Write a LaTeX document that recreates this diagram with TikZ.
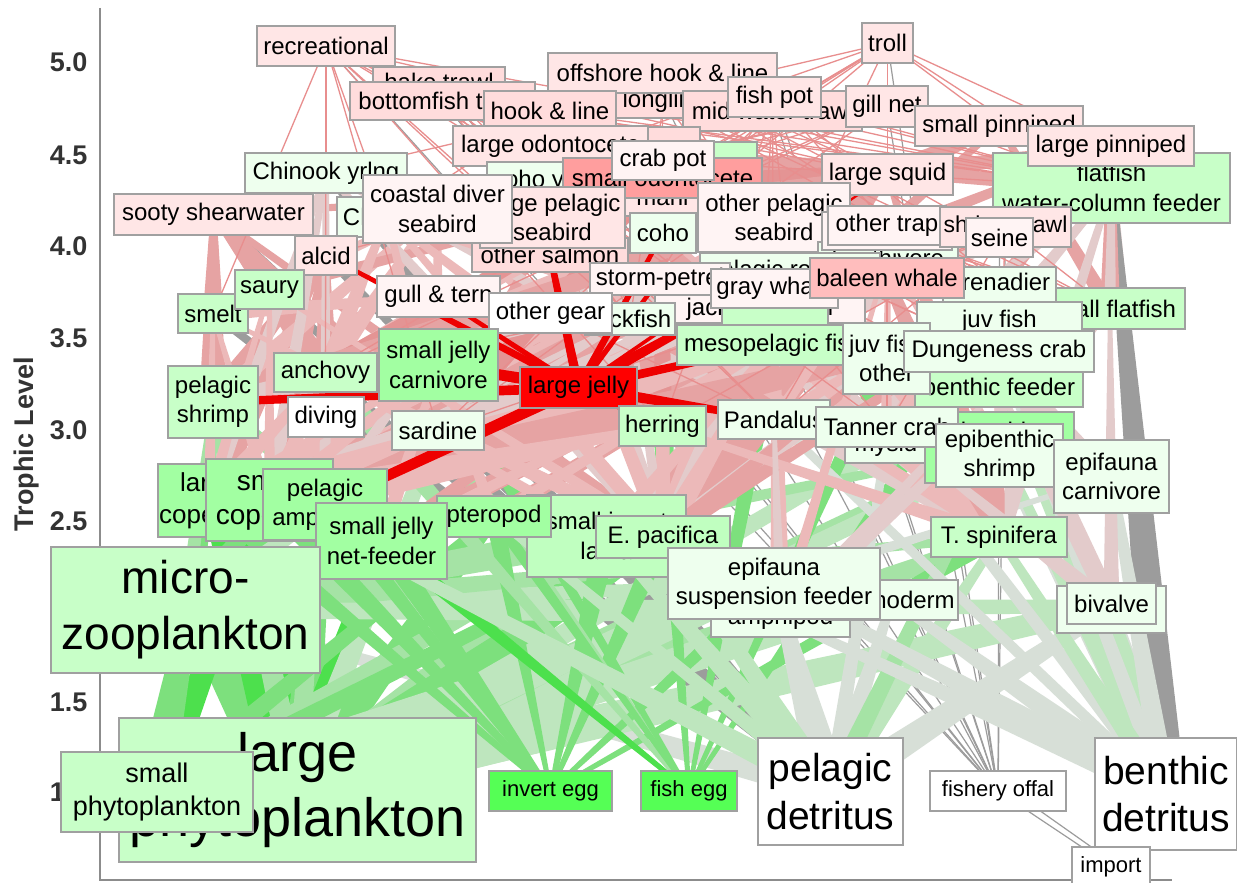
\documentclass[tikz,border=0pt]{standalone}
\usepackage{fontspec}
\setmainfont{Liberation Sans}
\usetikzlibrary{calc}
\pgfdeclarelayer{edges}
\pgfsetlayers{edges,main}
\definecolor{cP}{HTML}{E6A3A3}
\definecolor{cP2}{HTML}{ECB9B9}
\definecolor{cPG}{HTML}{E3CBCB}
\definecolor{cSP}{HTML}{E49494}
\definecolor{cL}{HTML}{E88E8E}
\definecolor{cG1}{HTML}{4DE04D}
\definecolor{cG2}{HTML}{7DE07D}
\definecolor{cG3}{HTML}{A5E3A5}
\definecolor{cG4}{HTML}{BEE6BE}
\definecolor{cGP}{HTML}{D7DFD7}
\definecolor{cGr}{HTML}{9C9C9C}
\definecolor{cR}{HTML}{EE0000}
\definecolor{bd}{HTML}{A0A0A0}
\definecolor{fP}{HTML}{FFE6E6}
\definecolor{fP2}{HTML}{FFDCDC}
\definecolor{fPW}{HTML}{FFF4F4}
\definecolor{fS}{HTML}{FF9E9E}
\definecolor{fB}{HTML}{FFBDBD}
\definecolor{fR}{HTML}{FF0000}
\definecolor{fGW}{HTML}{EEFFEE}
\definecolor{fGL}{HTML}{C8FFC8}
\definecolor{fGLb}{HTML}{C0FFC0}
\definecolor{fGM}{HTML}{A2FFA2}
\definecolor{fGB}{HTML}{55FF55}
\definecolor{fW}{HTML}{FFFFFF}
\definecolor{tk}{HTML}{333333}
\definecolor{ax}{HTML}{8C8C8C}
\tikzset{
  nd/.style={draw=bd,line width=1.2pt,inner sep=0pt,align=center,text=black},
  fl/.style={draw=cL,line width=1.3pt},
  gline/.style={draw=cGr,line width=1.2pt},
  tick/.style={anchor=east,text=tk,font=\bfseries\fontsize{27}{32}\selectfont},
  axisline/.style={draw=ax,line width=1.5pt}
}
\newcommand\bx[8]{\node[nd,fill=#6,minimum width={#4-#2},minimum height={#5-#3},font=\fontsize{#7}{\fpeval{1.22*#7}}\selectfont] (#1) at ({(#2+#4)/2},{(#3+#5)/2}) {#8};}
\newcommand\edg[5]{\fill[fill=#1] ($(#2.center)!#4!90:(#3.center)$) -- ($(#2.center)!#4!-90:(#3.center)$) -- ($(#3.center)!#5!90:(#2.center)$) -- ($(#3.center)!#5!-90:(#2.center)$) -- cycle;}
\begin{document}
\begin{tikzpicture}[x=1pt,y=-1pt]
\useasboundingbox (0,0) rectangle (1237,883);
% ---------------- nodes ----------------
\bx{rec}{257}{26}{395}{66}{fP}{24}{recreational}
\bx{hakeA}{373}{67}{505}{97}{fP2}{24}{hake trawl}
\bx{bft}{350}{82}{535}{120}{fP2}{24}{bottomfish trawl}
\bx{longl}{604}{84}{724}{118}{fP2}{24}{longline}
\bx{off}{548}{53}{777}{93}{fP}{24}{offshore hook \& line}
\bx{hook}{484}{91}{616}{131}{fP2}{24}{hook \& line}
\bx{midw}{683}{91}{862}{131}{fP2}{24}{mid water trawl}
\bx{fpot}{728}{77}{821}{117}{fP}{24}{fish pot}
\bx{troll}{862}{23}{913}{63}{fP}{24}{troll}
\bx{gill}{846}{86}{928}{127}{fP}{24}{gill net}
\bx{spin}{915}{106}{1083}{146}{fP}{24}{small pinniped}
\bx{fwc}{993}{153}{1230}{223}{fGL}{24}{flatfish\\water-column feeder}
\bx{lpin}{1028}{126}{1194}{166}{fP}{24}{large pinniped}
\bx{lodo}{453}{126}{648}{166}{fP}{24}{large odontocete}
\bx{hidP}{648}{127}{700}{170}{fP2}{24}{}
\bx{hidG}{690}{142}{757}{175}{fGL}{24}{}
\bx{cohoy}{487}{162}{610}{200}{fGW}{24}{coho yrlng}
\bx{mahi}{625}{178}{700}{216}{fP}{24}{mahi}
\bx{sodo}{563}{158}{762}{198}{fS}{24}{small odontocete}
\bx{cpot}{612}{141}{714}{180}{fPW}{24}{crab pot}
\bx{chy}{245}{153}{407}{193}{fGW}{24}{Chinook yrlng}
\bx{chk}{337}{197}{437}{237}{fGW}{24}{Chinook}
\bx{sooty}{114}{194}{313}{235}{fP}{24}{sooty shearwater}
\bx{osal}{472}{238}{628}{272}{fP2}{24}{other salmon}
\bx{lpsb}{480}{187}{625}{248}{fP}{24}{large pelagic\\seabird}
\bx{cdiv}{363}{175}{512}{243}{fPW}{24}{coastal diver\\seabird}
\bx{coho}{630}{213}{696}{253}{fGW}{24}{coho}
\bx{lsq}{822}{154}{953}{195}{fP}{24}{large squid}
\bx{opsb}{698}{183}{850}{252}{fPW}{24}{other pelagic\\seabird}
\bx{benth}{818}{242}{958}{274}{fGW}{24}{benthivore}
\bx{otrapB}{822}{212}{952}{250}{fPW}{24}{}
\bx{otrap}{828}{206}{946}{245}{fPW}{24}{other trap}
\bx{strawl}{940}{207}{1071}{247}{fP}{23}{shrimp trawl}
\bx{seine}{966}{218}{1033}{257}{fPW}{24}{seine}
\bx{alcid}{295}{236}{357}{275}{fP}{24}{alcid}
\bx{smelt}{178}{294}{248}{333}{fGL}{24}{smelt}
\bx{saury}{235}{270}{304}{309}{fGL}{24}{saury}
\bx{gull}{377}{276}{500}{317}{fPW}{24}{gull \& tern}
\bx{prock}{700}{253}{880}{289}{fGW}{24}{pelagic rockfish}
\bx{spet}{590}{263}{730}{295}{fPW}{24}{storm-petrel}
\bx{jmack}{655}{295}{865}{323}{fPW}{24}{jack mackerel}
\bx{rockf}{585}{303}{675}{335}{fGW}{24}{rockfish}
\bx{ogear}{489}{293}{612}{333}{fW}{24}{other gear}
\bx{hidG2}{722}{305}{828}{330}{fGL}{24}{}
\bx{gwhale}{711}{269}{838}{308}{fPW}{24}{gray whale}
\bx{sflat}{1035}{288}{1185}{329}{fGL}{24}{small flatfish}
\bx{gren}{943}{267}{1056}{302}{fGW}{24}{grenadier}
\bx{bwhale}{810}{258}{964}{298}{fB}{24}{baleen whale}
\bx{meso}{677}{325}{870}{365}{fGL}{24}{mesopelagic fish}
\bx{juvf}{917}{302}{1082}{340}{fGW}{24}{juv fish}
\bx{bfeed}{915}{367}{1083}{407}{fGL}{24}{benthic feeder}
\bx{juvo}{843}{323}{930}{394}{fGW}{24}{juv fish\\other}
\bx{dcrab}{904}{331}{1094}{372}{fGW}{24}{Dungeness crab}
\bx{sjc}{379}{329}{498}{401}{fGM}{24}{small jelly\\carnivore}
\bx{anch}{274}{353}{377}{392}{fGL}{24}{anchovy}
\bx{pshr}{168}{366}{258}{438}{fGL}{24}{pelagic\\shrimp}
\bx{diving}{288}{397}{364}{437}{fW}{24}{diving}
\bx{ljelly}{520}{367}{637}{408}{fR}{24}{large jelly}
\bx{sard}{392}{411}{484}{450}{fGW}{24}{sardine}
\bx{herr}{619}{406}{706}{446}{fGL}{24}{herring}
\bx{pand}{718}{400}{830}{439}{fGW}{24}{Pandalus}
\bx{mysid}{845}{428}{927}{463}{fGW}{24}{mysid}
\bx{ezoo}{925}{412}{1074}{483}{fGM}{24}{benthic\\zooplankton}
\bx{tanner}{816}{407}{958}{447}{fGW}{24}{Tanner crab}
\bx{eshr}{936}{424}{1063}{487}{fGW}{24}{epibenthic\\shrimp}
\bx{ecarn}{1054}{440}{1169}{513}{fGW}{24}{epifauna\\carnivore}
\bx{tspin}{931}{517}{1067}{557}{fGL}{24}{T. spinifera}
\bx{infa}{1057}{586}{1166}{633}{fGW}{24}{infauna}
\bx{biv}{1067}{583}{1156}{624}{fGW}{24}{bivalve}
\bx{amph}{711}{600}{850}{637}{fGW}{24}{amphipod}
\bx{echi}{826}{580}{958}{620}{fGW}{24}{echinoderm}
\bx{sil}{527}{495}{686}{577}{fGLb}{24}{small invert\\larva}
\bx{epac}{596}{516}{730}{558}{fGLb}{24}{E. pacifica}
\bx{esus}{668}{548}{880}{619}{fGW}{24}{epifauna\\suspension feeder}
\bx{pter}{437}{496}{551}{537}{fGM}{24}{pteropod}
\bx{lcop}{158}{464}{260}{537}{fGM}{26}{large\\copepod}
\bx{scop}{206}{459}{333}{541}{fGM}{28}{small\\copepod}
\bx{pamph}{263}{469}{387}{540}{fGM}{24}{pelagic\\amphipod}
\bx{sjnf}{316}{503}{447}{579}{fGM}{24}{small jelly\\net-feeder}
\bx{mzoo}{51}{547}{320}{673}{fGL}{46}{micro-\\zooplankton}
\bx{lphy}{119}{718}{476}{862}{fGL}{54}{large\\phytoplankton}
\bx{sphy}{61}{752}{253}{832}{fGL}{27}{small\\phytoplankton}
\bx{iegg}{489}{771}{612}{811}{fGB}{22}{invert egg}
\bx{fegg}{641}{771}{737}{811}{fGB}{22}{fish egg}
\bx{pdet}{758}{738}{903}{845}{fW}{39}{pelagic\\detritus}
\bx{foff}{930}{771}{1066}{811}{fW}{22}{fishery offal}
\bx{bdet}{1095}{738}{1237}{850}{fW}{39}{benthic\\detritus}
\bx{import}{1072}{847}{1150}{886}{fW}{22}{import}
% ---------------- edges and axis ----------------
\begin{pgfonlayer}{edges}
\fill[white] (0,0) rectangle (1237,883);
\draw[axisline] (100,8) -- (100,880) -- (1172,880);
\node[tick] (t50) at (91,62) {5.0};
\node[tick] (t45) at (91,155) {4.5};
\node[tick] (t40) at (91,246) {4.0};
\node[tick] (t35) at (91,338) {3.5};
\node[tick] (t30) at (91,430) {3.0};
\node[tick] (t25) at (91,521) {2.5};
\node[tick] (t20) at (91,612) {2.0};
\node[tick] (t15) at (91,702) {1.5};
\node[tick] (t10) at (91,792) {1.0};
\node[text=tk,font=\bfseries\fontsize{27}{32}\selectfont,rotate=90] (ylab) at (27,444) {Trophic Level};
% gray flows
\foreach \nn in {bft,hook,off,longl,midw,fpot,cpot,otrap,strawl,gill,troll,rec,seine,ogear,hakeA}
  {\draw[gline] (foff.center) -- (\nn.center);}
\draw[gline] (import.center) -- (foff.center);
\draw[gline] ([xshift=8pt]import.center) -- ([xshift=14pt]foff.center);
\foreach \nn in {saury,smelt,alcid,chy,sooty,anch}
  {\edg{cGr}{pdet}{\nn}{5pt}{4pt}}
\edg{cPG}{bdet}{lpin}{8pt}{2pt}
\edg{cGr}{bdet}{fwc}{20pt}{4pt}
\edg{cGr}{bdet}{ecarn}{9pt}{3pt}
\edg{cGr}{biv}{ecarn}{8pt}{2pt}
% detritus (pale), drawn first so greens lie over part of them
\edg{cGP}{pdet}{mzoo}{12pt}{4pt}
% primary producers
\foreach \nn/\ww/\cc in {mzoo/34pt/cG2,lcop/30pt/cG1,scop/32pt/cG1,pamph/20pt/cG2,sjnf/22pt/cG1,pter/16pt/cG2,sil/20pt/cG3,epac/26pt/cG2,tspin/24pt/cG3,esus/26pt/cG4,biv/22pt/cG4,infa/20pt/cG4,ezoo/16pt/cG3,eshr/12pt/cG4,mysid/12pt/cG4,amph/14pt/cG4,echi/12pt/cG4,pshr/12pt/cG3,sard/12pt/cG4,anch/10pt/cG3}
  {\edg{\cc}{lphy}{\nn}{\ww}{7pt}}
\foreach \nn/\ww/\cc in {mzoo/22pt/cG2,scop/16pt/cG1,lcop/16pt/cG2,sil/12pt/cG3,esus/12pt/cG4,pter/10pt/cG2,epac/10pt/cG2}
  {\edg{\cc}{sphy}{\nn}{\ww}{5pt}}
\foreach \nn/\ww/\cc in {scop/16pt/cG2,lcop/14pt/cG2,sjnf/12pt/cG1,pter/10pt/cG2,sil/12pt/cG3,epac/12pt/cG3,esus/12pt/cG4,biv/10pt/cG4,pamph/10pt/cG2,tspin/10pt/cG3,infa/8pt/cG4,ezoo/8pt/cG3,amph/8pt/cG4}
  {\edg{\cc}{mzoo}{\nn}{\ww}{4pt}}
\foreach \nn/\ww in {scop/12pt,sjnf/12pt,pter/9pt,sil/12pt,epac/10pt,pamph/9pt,lcop/10pt,esus/8pt,tspin/8pt}
  {\edg{cG2}{\nn}{iegg}{\ww}{2pt}}
\foreach \nn/\ww/\cc in {sard/10pt/cG3,anch/10pt/cG3,herr/10pt/cG2,meso/10pt/cG2,pshr/8pt/cG3,sjc/8pt/cG2,juvf/8pt/cG2,juvo/8pt/cG2,sjnf/8pt/cG1,pter/6pt/cG2}
  {\edg{\cc}{\nn}{fegg}{\ww}{2pt}}
\foreach \nn/\ww/\cc in {scop/12pt/cG4,sil/14pt/cG4,esus/20pt/cGP,biv/16pt/cGP,infa/16pt/cGP,amph/12pt/cGP,echi/12pt/cGP,tspin/12pt/cG4,epac/12pt/cG4,ezoo/10pt/cG3,mysid/8pt/cGP,pter/8pt/cG4}
  {\edg{\cc}{pdet}{\nn}{\ww}{4pt}}
\foreach \nn/\ww/\cc in {biv/20pt/cGP,infa/20pt/cG4,echi/14pt/cGP,ecarn/12pt/cGP,eshr/10pt/cGP,ezoo/10pt/cG4,amph/12pt/cGP,bfeed/8pt/cG4,dcrab/8pt/cGP,tanner/8pt/cGP,pand/6pt/cGP,esus/14pt/cGP,tspin/10pt/cG4}
  {\edg{\cc}{bdet}{\nn}{\ww}{4pt}}
\foreach \nn/\ww in {scop/8pt,lcop/8pt,mzoo/8pt}
  {\edg{cG3}{\nn}{pshr}{\ww}{3pt}}
\edg{cG4}{mzoo}{sard}{10pt}{3pt}
\foreach \nn/\ww in {biv/6pt,infa/6pt,esus/6pt}
  {\edg{cGP}{\nn}{ecarn}{\ww}{2pt}}
% pink predation flows
\foreach \nn/\ww in {epac/20pt,tspin/18pt,pshr/10pt,scop/18pt,lcop/16pt,pamph/10pt,sjnf/10pt,sil/12pt,pter/8pt}
  {\edg{cP}{\nn}{bwhale}{\ww}{5pt}}
\foreach \nn/\ww in {amph/10pt,ezoo/9pt,pshr/7pt,mysid/7pt,scop/8pt}
  {\edg{cP2}{\nn}{gwhale}{\ww}{3pt}}
\foreach \nn/\ww in {anch/14pt,smelt/10pt,saury/10pt,pshr/14pt,sard/10pt,lsq/6pt,epac/8pt}
  {\edg{cP}{\nn}{sooty}{\ww}{3pt}}
\foreach \nn/\ww in {anch/12pt,smelt/10pt,pshr/12pt,lcop/14pt,saury/8pt,scop/8pt}
  {\edg{cP}{\nn}{alcid}{\ww}{3pt}}
\foreach \nn/\ww in {anch/10pt,smelt/8pt,herr/10pt,pshr/10pt,sard/8pt}
  {\edg{cP2}{\nn}{cdiv}{\ww}{3pt}}
\foreach \nn/\ww in {lsq/8pt,meso/10pt,saury/6pt,sard/8pt,epac/6pt}
  {\edg{cP}{\nn}{lpsb}{\ww}{3pt}}
\foreach \nn/\ww in {meso/10pt,lsq/8pt,epac/12pt,pshr/8pt,tspin/8pt,scop/8pt}
  {\edg{cP2}{\nn}{opsb}{\ww}{3pt}}
\foreach \nn/\ww in {anch/10pt,smelt/8pt,herr/8pt,sard/8pt}
  {\edg{cP2}{\nn}{gull}{\ww}{3pt}}
\foreach \nn/\ww in {meso/6pt,epac/8pt,pshr/6pt,lcop/8pt}
  {\edg{cP2}{\nn}{spet}{\ww}{2pt}}
\foreach \nn/\ww in {epac/10pt,tspin/8pt,lcop/8pt,scop/8pt,pamph/6pt}
  {\edg{cPG}{\nn}{chy}{\ww}{3pt}}
\foreach \nn/\ww in {herr/10pt,anch/10pt,sard/8pt,epac/8pt,meso/6pt}
  {\edg{cP2}{\nn}{chk}{\ww}{3pt}}
\foreach \nn/\ww in {anch/8pt,herr/8pt,tspin/8pt,epac/8pt}
  {\edg{cP2}{\nn}{coho}{\ww}{3pt}}
\foreach \nn/\ww in {epac/8pt,tspin/6pt,pamph/6pt}
  {\edg{cPG}{\nn}{cohoy}{\ww}{2pt}}
\foreach \nn/\ww in {herr/8pt,epac/8pt,tspin/6pt,anch/6pt}
  {\edg{cP2}{\nn}{osal}{\ww}{3pt}}
\foreach \nn/\ww in {lsq/12pt,meso/10pt,prock/8pt,gren/8pt,fwc/8pt}
  {\edg{cP}{\nn}{lodo}{\ww}{3pt}}
\foreach \nn/\ww in {anch/12pt,sard/12pt,herr/10pt,meso/10pt,lsq/10pt,jmack/8pt}
  {\edg{cSP}{\nn}{sodo}{\ww}{3pt}}
\foreach \nn/\ww in {lsq/6pt,meso/6pt,jmack/6pt}
  {\edg{cP}{\nn}{mahi}{\ww}{2pt}}
\foreach \nn/\ww in {herr/10pt,anch/10pt,fwc/10pt,sflat/8pt,lsq/8pt,sard/8pt}
  {\edg{cP}{\nn}{spin}{\ww}{3pt}}
\foreach \nn/\ww in {fwc/14pt,sflat/10pt,gren/8pt,lsq/10pt,prock/8pt}
  {\edg{cP}{\nn}{lpin}{\ww}{3pt}}
\foreach \nn/\ww in {meso/12pt,epac/14pt,tspin/12pt,pshr/10pt,sard/10pt,anch/10pt,jmack/8pt,pamph/8pt,scop/8pt,sjnf/6pt}
  {\edg{cP}{\nn}{lsq}{\ww}{3pt}}
\foreach \nn/\ww in {epac/10pt,tspin/10pt,pshr/8pt,meso/10pt,pamph/6pt,juvf/8pt,sflat/6pt}
  {\edg{cPG}{\nn}{fwc}{\ww}{3pt}}
\foreach \nn/\ww in {epac/8pt,tspin/8pt,scop/8pt,pamph/6pt}
  {\edg{cPG}{\nn}{prock}{\ww}{3pt}}
\foreach \nn/\ww in {epac/8pt,tspin/8pt,scop/8pt,lcop/8pt}
  {\edg{cPG}{\nn}{jmack}{\ww}{3pt}}
\foreach \nn/\ww in {epac/6pt,pamph/6pt,scop/6pt}
  {\edg{cPG}{\nn}{rockf}{\ww}{2pt}}
\foreach \nn/\ww in {epac/12pt,tspin/12pt,scop/12pt,lcop/10pt,pamph/8pt,pter/6pt,sjnf/6pt,sil/8pt}
  {\edg{cP2}{\nn}{meso}{\ww}{3pt}}
\foreach \nn/\ww in {scop/8pt,lcop/8pt,pamph/6pt,epac/8pt,tspin/6pt}
  {\edg{cP}{\nn}{juvf}{\ww}{3pt}}
\foreach \nn/\ww in {scop/8pt,lcop/8pt,pamph/6pt,tspin/6pt,epac/8pt}
  {\edg{cP}{\nn}{juvo}{\ww}{3pt}}
\foreach \nn/\ww in {scop/10pt,lcop/10pt,epac/8pt}
  {\edg{cP2}{\nn}{sard}{\ww}{3pt}}
\foreach \nn/\ww in {scop/10pt,lcop/10pt,epac/8pt,sil/6pt}
  {\edg{cP2}{\nn}{anch}{\ww}{3pt}}
\foreach \nn/\ww in {scop/10pt,lcop/8pt,epac/10pt,pamph/6pt,tspin/8pt}
  {\edg{cP2}{\nn}{herr}{\ww}{3pt}}
\foreach \nn/\ww in {scop/6pt,lcop/6pt,epac/6pt}
  {\edg{cP2}{\nn}{smelt}{\ww}{2pt}\edg{cP2}{\nn}{saury}{\ww}{2pt}}
\foreach \nn/\ww in {sjnf/8pt,pter/6pt,scop/8pt,lcop/6pt}
  {\edg{cP2}{\nn}{sjc}{\ww}{3pt}}
\foreach \nn/\ww in {pand/6pt,tanner/6pt,mysid/6pt,ezoo/6pt}
  {\edg{cP2}{\nn}{gren}{\ww}{2pt}}
\foreach \nn/\ww in {amph/6pt,ezoo/6pt,mysid/6pt,pand/6pt}
  {\edg{cP2}{\nn}{benth}{\ww}{2pt}}
\foreach \nn/\ww in {ezoo/8pt,mysid/6pt,amph/6pt}
  {\edg{cPG}{\nn}{pand}{\ww}{2pt}}
\foreach \nn/\ww in {infa/8pt,ecarn/6pt,biv/6pt}
  {\edg{cPG}{\nn}{tanner}{\ww}{2pt}}
\foreach \nn/\ww in {amph/8pt,ezoo/8pt,eshr/6pt,infa/8pt}
  {\edg{cPG}{\nn}{sflat}{\ww}{2pt}}
\foreach \nn/\ww in {biv/8pt,infa/8pt,ecarn/6pt,eshr/6pt}
  {\edg{cPG}{\nn}{dcrab}{\ww}{2pt}}
\foreach \nn/\ww in {infa/8pt,amph/8pt,ezoo/6pt}
  {\edg{cPG}{\nn}{bfeed}{\ww}{2pt}}
% fleets
\foreach \nn in {chy,chk,coho,osal,lsq,sard,anch,herr,smelt,rockf,prock,dcrab,fwc,sflat,mahi,cohoy}
  {\draw[fl] (rec.center) -- (\nn.center);}
\foreach \nn in {fwc,sflat,gren,pand,rockf,prock,meso}
  {\draw[fl] (hakeA.center) -- (\nn.center);}
\foreach \nn in {fwc,sflat,gren,rockf,dcrab,tanner,pand,bfeed,juvf,prock}
  {\draw[fl] (bft.center) -- (\nn.center);}
\foreach \nn in {mahi,fwc,lsq,prock,sflat,gren,lpin}
  {\draw[fl] (off.center) -- (\nn.center);}
\foreach \nn in {fwc,gren,rockf,prock,sflat}
  {\draw[fl] (longl.center) -- (\nn.center);}
\foreach \nn in {rockf,prock,fwc,gren,sflat,lsq,osal,chk}
  {\draw[fl] (hook.center) -- (\nn.center);}
\foreach \nn in {meso,herr,sard,anch,jmack,fwc,prock,lsq}
  {\draw[fl] (midw.center) -- (\nn.center);}
\foreach \nn in {fwc,gren,rockf,dcrab}
  {\draw[fl] (fpot.center) -- (\nn.center);}
\foreach \nn in {chk,coho,osal,chy,mahi,fwc,lsq,sodo,spin,lpin,jmack,midw}
  {\draw[fl] (troll.center) -- (\nn.center);}
\foreach \nn in {chk,osal,sard,anch,fwc,sodo,spin,lpin,cdiv,alcid,lodo}
  {\draw[fl] (gill.center) -- (\nn.center);}
\foreach \nn in {dcrab,tanner,fwc}
  {\draw[fl] (cpot.center) -- (\nn.center);}
\foreach \nn in {dcrab,pand,tanner,fwc}
  {\draw[fl] (otrap.center) -- (\nn.center);}
\foreach \nn in {pand,sflat,fwc,bfeed,tanner}
  {\draw[fl] (strawl.center) -- (\nn.center);}
\foreach \nn in {sard,anch,herr,jmack,lsq}
  {\draw[fl] (seine.center) -- (\nn.center);}
\foreach \nn in {dcrab,bfeed,pand}
  {\draw[fl] (ogear.center) -- (\nn.center);}
% large jelly flows
\edg{cR}{ljelly}{pshr}{5pt}{4pt}
\edg{cR}{ljelly}{sjc}{6pt}{5pt}
\edg{cR}{ljelly}{alcid}{4pt}{2pt}
\edg{cR}{ljelly}{osal}{5pt}{3pt}
\edg{cR}{ljelly}{coho}{4pt}{2pt}
\edg{cR}{ljelly}{prock}{6pt}{2pt}
\edg{cR}{ljelly}{meso}{5pt}{3pt}
\edg{cR}{ljelly}{pand}{6pt}{3pt}
\edg{cR}{ljelly}{pamph}{6pt}{5pt}
\edg{cR}{ljelly}{gull}{3pt}{2pt}
\edg{cR}{ljelly}{lsq}{2pt}{1pt}
\edg{cR}{ljelly}{herr}{4pt}{3pt}
\edg{cR}{ljelly}{spet}{3pt}{2pt}
\end{pgfonlayer}
\end{tikzpicture}
\end{document}
